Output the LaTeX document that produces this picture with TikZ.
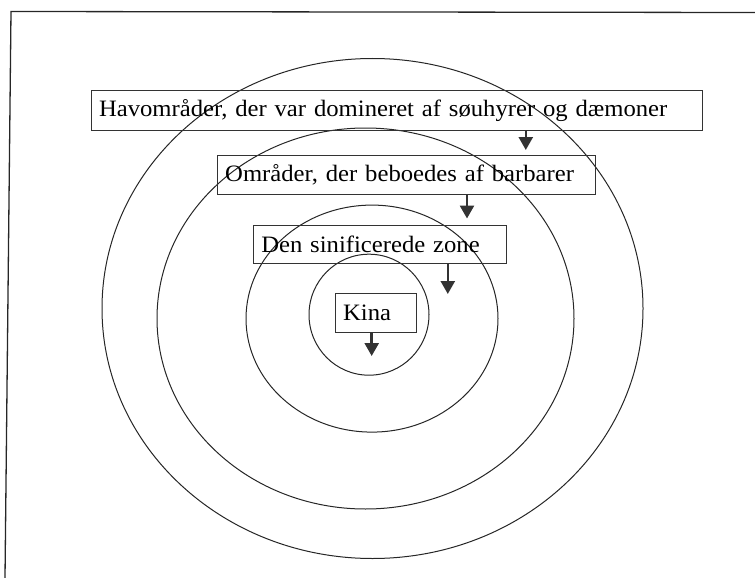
\documentclass[tikz,border=0pt]{standalone}
\usepackage{fontspec}
\setmainfont{Liberation Serif}[FakeStretch=1.05]
\usetikzlibrary{arrows.meta}
\begin{document}
\begin{tikzpicture}[x=1pt,y=-1pt,
  ring/.style={line width=1pt, draw=black!85},
  box/.style={draw=black!80, line width=1pt, anchor=north west, align=left,
    inner xsep=8pt, inner ysep=0pt, font=\fontsize{23.5}{25}\selectfont, text=black},
  arr/.style={draw=black!80, line width=2.6pt,
    -{Triangle[width=14pt,length=13pt]}, fill=black!80}]
\useasboundingbox (0,0) rectangle (755,578);
% frame
\draw[line width=1.3pt, black!85] (755,12.5) -- (11,11.5) -- (5,578);
% rings
\draw[ring] (372.5,308.5) ellipse [x radius=270.5pt, y radius=250pt];
\draw[ring] (365.5,318.5) ellipse [x radius=208.5pt, y radius=190.5pt];
\draw[ring] (372,318.6) ellipse [x radius=126pt, y radius=113.5pt];
\draw[ring] (369,314.7) ellipse [x radius=60pt, y radius=60.5pt];
% boxes
\node[box, text width=595.5pt, minimum height=39.5pt] (b1) at (90.5,90.3)
  {Havområder, der var domineret af søuhyrer og dæmoner};
\node[box, text width=362pt, minimum height=38.7pt] (b2) at (216.7,154.8)
  {Områder, der beboedes af barbarer};
\node[box, text width=236.8pt, minimum height=38pt] (b3) at (252.8,224.8)
  {Den sinificerede zone};
\node[box, text width=65.4pt, minimum height=38.7pt] (b4) at (334.6,293)
  {Kina};
% arrow ends
\coordinate (e1) at (525.8,150);
\coordinate (e2) at (467,218.5);
\coordinate (e3) at (447.8,294);
\coordinate (e4) at (371.7,356);
\draw[arr] (e1 |- b1.south) -- (e1);
\draw[arr] (e2 |- b2.south) -- (e2);
\draw[arr] (e3 |- b3.south) -- (e3);
\draw[arr] (e4 |- b4.south) -- (e4);
\end{tikzpicture}
\end{document}
